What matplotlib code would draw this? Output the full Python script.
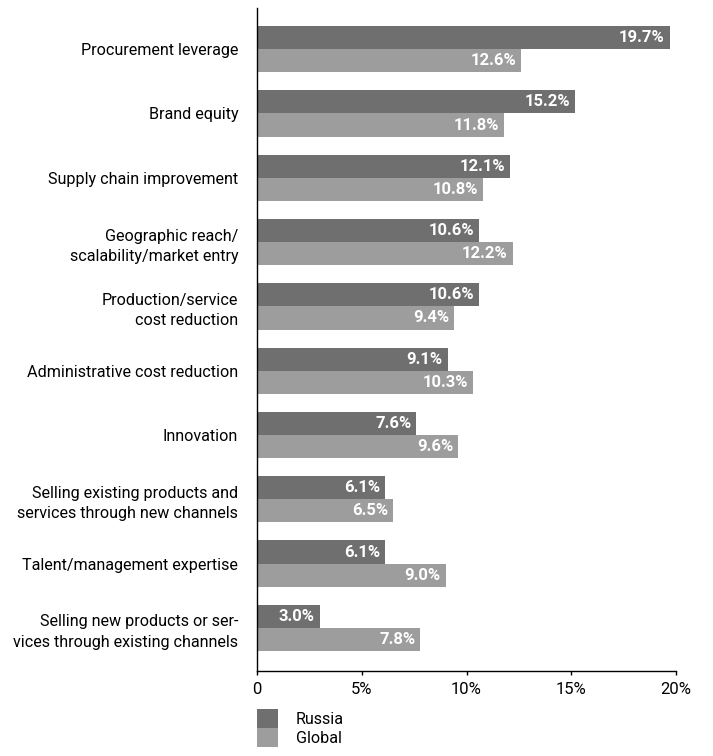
import matplotlib.pyplot as plt
import numpy as np

categories = [
    "Procurement leverage",
    "Brand equity",
    "Supply chain improvement",
    "Geographic reach/\nscalability/market entry",
    "Production/service\ncost reduction",
    "Administrative cost reduction",
    "Innovation",
    "Selling existing products and\nservices through new channels",
    "Talent/management expertise",
    "Selling new products or ser-\nvices through existing channels",
]
russia = [19.7, 15.2, 12.1, 10.6, 10.6, 9.1, 7.6, 6.1, 6.1, 3.0]
global_ = [12.6, 11.8, 10.8, 12.2, 9.4, 10.3, 9.6, 6.5, 9.0, 7.8]
x_ticks = [0, 5, 10, 15, 20]
x_ticklabels = ["0", "5%", "10%", "15%", "20%"]

plt.rcParams['font.family'] = ['Roboto', 'DejaVu Sans']
fs = 11.6
fs_val = 12

fig = plt.figure(figsize=(7.13, 7.56), dpi=100)
W, H = 713, 756
ax = fig.add_axes([257 / W, 1 - 671 / H, (676 - 257) / W, (671 - 8) / H])

y = np.arange(len(categories))
h = 0.36
bars_r = ax.barh(y - h / 2, russia, height=h, color="#6f6f6f", label="Russia")
bars_g = ax.barh(y + h / 2, global_, height=h, color="#9d9d9d", label="Global")

for bars, vals in ((bars_r, russia), (bars_g, global_)):
    for b, v in zip(bars, vals):
        ax.annotate(f"{v:.1f}%", (v, b.get_y() + b.get_height() / 2),
                    xytext=(-3.5, 0), textcoords="offset points",
                    ha="right", va="center", color="white",
                    fontweight="bold", fontsize=fs_val)

ax.set_xlim(0, 20)
ax.set_ylim(len(categories) - 1 + 0.67, -0.64)
ax.set_yticks(y)
ax.set_yticklabels(categories, fontsize=fs, linespacing=1.45)
ax.tick_params(axis="y", length=0, pad=13.5)
ax.set_xticks(x_ticks)
ax.set_xticklabels(x_ticklabels, fontsize=fs_val)
ax.tick_params(axis="x", length=3, width=1, pad=5)
for s in ("top", "right"):
    ax.spines[s].set_visible(False)
for s in ("left", "bottom"):
    ax.spines[s].set_linewidth(1)

fig.legend(handles=[bars_r, bars_g], loc="upper left",
           bbox_to_anchor=(257 / W, 1 - 709 / H), bbox_transform=fig.transFigure,
           frameon=False, fontsize=fs, borderpad=0, borderaxespad=0,
           handlelength=21 / 16.1, handleheight=23 / 16.1,
           labelspacing=0, handletextpad=18 / 16.1)

fig.savefig("out.png", dpi=100)
